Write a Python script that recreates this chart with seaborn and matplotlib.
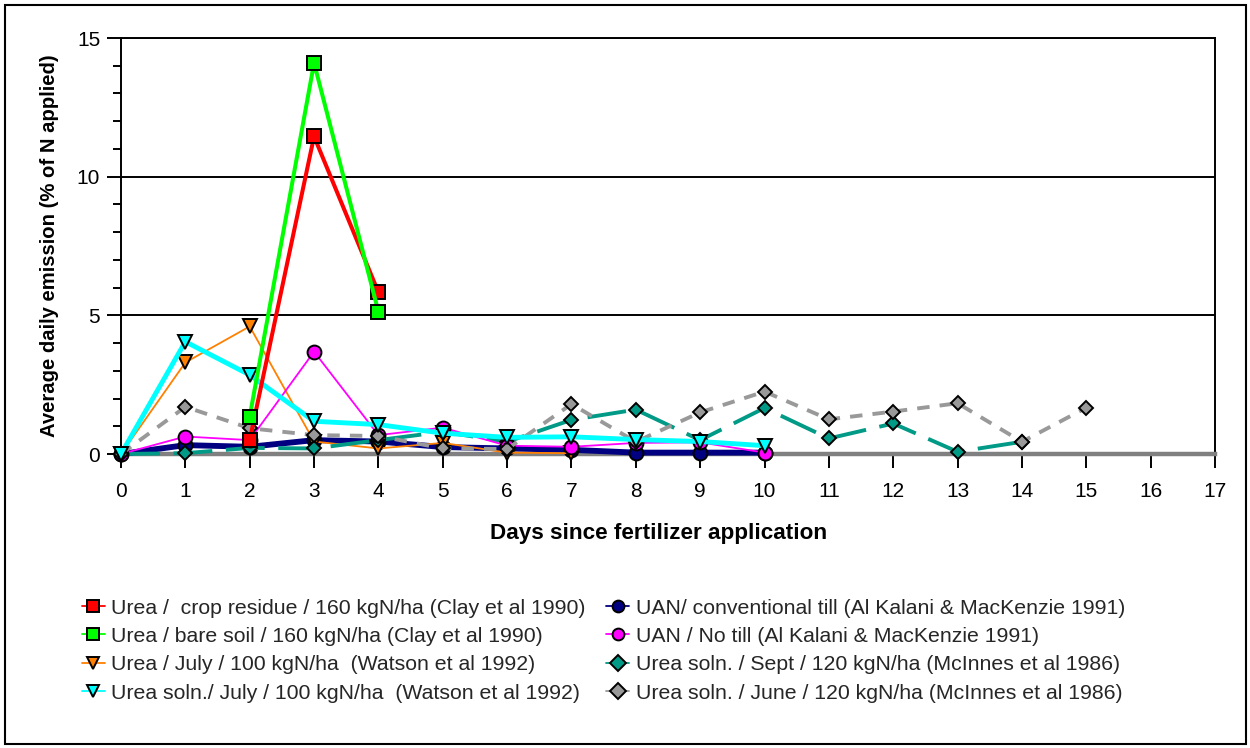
import numpy as np
import pandas as pd
import matplotlib
matplotlib.use("Agg")
import matplotlib.pyplot as plt
import seaborn as sns
from matplotlib.patches import Rectangle
from matplotlib.ticker import MultipleLocator

# ---------------- data ----------------
labels = [
    "Urea /  crop residue / 160 kgN/ha (Clay et al 1990)",
    "Urea / bare soil / 160 kgN/ha (Clay et al 1990)",
    "Urea / July / 100 kgN/ha  (Watson et al 1992)",
    "Urea soln./ July / 100 kgN/ha  (Watson et al 1992)",
    "UAN/ conventional till (Al Kalani & MacKenzie 1991)",
    "UAN / No till (Al Kalani & MacKenzie 1991)",
    "Urea soln. / Sept / 120 kgN/ha (McInnes et al 1986)",
    "Urea soln. / June / 120 kgN/ha (McInnes et al 1986)",
]

red_days = [2, 3, 4]
red_vals = [0.5, 11.45, 5.83]

green_days = [2, 3, 4]
green_vals = [1.35, 14.1, 5.13]

orange_days = [0, 1, 2, 3, 4, 5, 6, 7]
orange_vals = [0.0, 3.3, 4.6, 0.45, 0.2, 0.4, 0.05, 0.03]

cyan_days = [0, 1, 2, 3, 4, 5, 6, 7, 8, 9, 10]
cyan_vals = [0.0, 4.05, 2.85, 1.18, 1.06, 0.75, 0.6, 0.62, 0.52, 0.45, 0.3]

navy_days = [0, 1, 2, 3, 4, 5, 6, 7, 8, 9, 10]
navy_vals = [0.0, 0.32, 0.26, 0.5, 0.45, 0.25, 0.2, 0.15, 0.05, 0.05, 0.05]

pink_days = [0, 1, 2, 3, 4, 5, 6, 7, 8, 9, 10]
pink_vals = [0.0, 0.63, 0.5, 3.69, 0.68, 0.95, 0.3, 0.26, 0.4, 0.42, 0.05]

teal_days = [0, 1, 2, 3, 4, 5, 6, 7, 8, 9, 10, 11, 12, 13, 14]
teal_vals = [0.0, 0.03, 0.22, 0.2, 0.5, 0.8, 0.44, 1.23, 1.6, 0.5, 1.66, 0.56, 1.1, 0.08, 0.44]

gray_days = [0, 1, 2, 3, 4, 5, 6, 7, 8, 9, 10, 11, 12, 13, 14, 15]
gray_vals = [0.0, 1.7, 0.93, 0.68, 0.65, 0.2, 0.18, 1.8, 0.44, 1.5, 2.25, 1.25, 1.53, 1.83, 0.44, 1.67]

x_ticks = list(range(0, 18))
y_ticks = [0, 5, 10, 15]

# ---------------- style ----------------
sns.set_theme(style="white")
plt.rcParams["font.family"] = ["Liberation Sans", "DejaVu Sans"]

fig = plt.figure(figsize=(12.5, 7.48), dpi=100)
ax = fig.add_axes([121 / 1250, 1 - 454 / 748, (1215 - 121) / 1250, (454 - 38) / 748])

series = {
    # key: (days, vals, color, marker, lw, ms, linestyle, zorder, label_index)
    "navy": (navy_days, navy_vals, "#000080", "o", 4.2, 10, "-", 3, 4),
    "orange": (orange_days, orange_vals, "#ff8000", "v", 1.3, 9.5, "-", 4, 2),
    "teal": (teal_days, teal_vals, "#009a86", "D", 2.8, 7.5, (0, (10, 3.5)), 5, 6),
    "pink": (pink_days, pink_vals, "#ff00ff", "o", 1.3, 10, "-", 6, 5),
    "gray": (gray_days, gray_vals, "#999999", "D", 2.8, 7.5, (0, (3.2, 2.6)), 7, 7),
    "cyan": (cyan_days, cyan_vals, "#00ffff", "v", 3.5, 9.5, "-", 8, 3),
    "red": (red_days, red_vals, "#ff0000", "s", 2.9, 9.5, "-", 9, 0),
    "green": (green_days, green_vals, "#00ff00", "s", 2.9, 9.5, "-", 10, 1),
}

handles = {}
for key, (d, v, col, mk, lw, ms, ls, z, li) in series.items():
    df = pd.DataFrame({"day": d, "val": v})
    sns.lineplot(data=df, x="day", y="val", ax=ax, color=col, marker=mk,
                 markersize=ms, markerfacecolor=col, markeredgecolor="black",
                 markeredgewidth=1.4, linewidth=lw, linestyle=ls, zorder=z,
                 clip_on=False, label=labels[li], legend=False)
    handles[li] = ax.get_lines()[-1]

ax.set_xlim(0, 17)
ax.set_ylim(0, 15)
ax.set_xticks(x_ticks)
ax.set_yticks(y_ticks)
ax.yaxis.set_minor_locator(MultipleLocator(1))

for yv in [5, 10, 15]:
    ax.axhline(yv, color="black", lw=1.4, zorder=1)
ax.axhline(0, color="black", lw=1.2, zorder=2)

for s in ["left", "right", "top"]:
    ax.spines[s].set_visible(True)
    ax.spines[s].set_color("black")
    ax.spines[s].set_linewidth(1.4)
ax.spines["bottom"].set_visible(True)
ax.spines["bottom"].set_color("#808080")
ax.spines["bottom"].set_linewidth(3.2)

ax.tick_params(axis="both", which="major", direction="out", length=10, width=1.4,
               color="black", labelsize=15, labelcolor="black")
ax.tick_params(axis="x", which="major", pad=10, bottom=True)
ax.tick_params(axis="y", which="major", pad=5, left=True)
ax.tick_params(axis="y", which="minor", direction="out", length=5.5, width=1.4,
               color="black", left=True)

ax.set_xlabel("Days since fertilizer application", fontsize=16.2, fontweight="bold",
              labelpad=17, color="black")
ax.xaxis.set_label_coords(0.4915, -0.166)
ax.set_ylabel("Average daily emission (% of N applied)", fontsize=14.6,
              fontweight="bold", labelpad=13, color="black")

order = [0, 1, 2, 3, 4, 5, 6, 7]
leg = fig.legend([handles[i] for i in order], [labels[i] for i in order],
                 loc="upper left", bbox_to_anchor=(73 / 1250, 1 - 590 / 748),
                 ncol=2, frameon=False, fontsize=15.3, handlelength=1.1,
                 handletextpad=0.3, columnspacing=0.95, labelspacing=0.44,
                 borderaxespad=0)
for line in leg.get_lines():
    line.set_linestyle("-")
    line.set_linewidth(1.3)
    line.set_markersize(8.5)

fig.patches.append(Rectangle((5 / 1250, 4 / 748), 1241 / 1250, 739 / 748,
                             transform=fig.transFigure, fill=False,
                             edgecolor="black", linewidth=1.5))

fig.savefig("out.png", dpi=100)
